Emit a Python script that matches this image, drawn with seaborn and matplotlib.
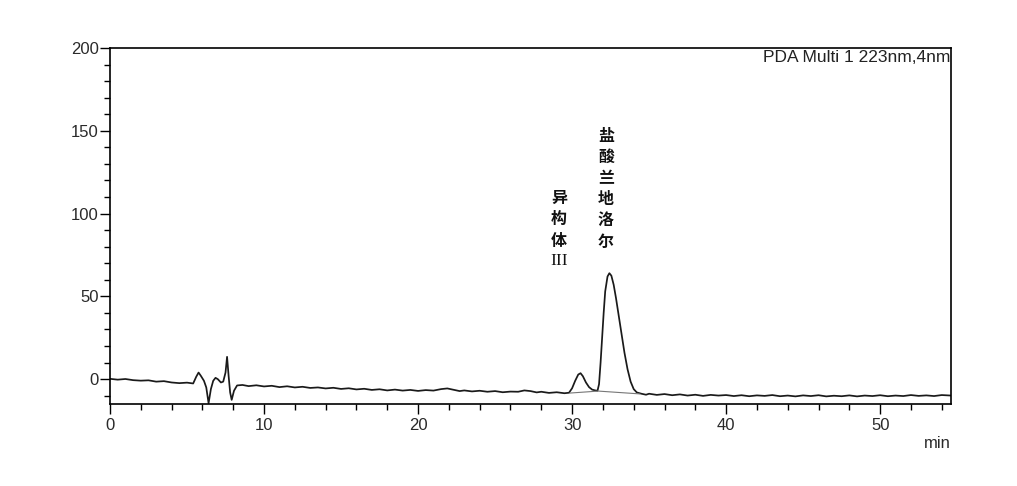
import numpy as np
import pandas as pd
import matplotlib
matplotlib.use("Agg")
import matplotlib.pyplot as plt
from matplotlib.ticker import MultipleLocator
import seaborn as sns

# ---------------- data ----------------
time_min = [
    0.0, 0.5, 1.0, 1.5, 2.0, 2.5, 3.0, 3.5, 4.0, 4.5, 5.0, 5.4,
    5.6, 5.75, 5.9, 6.1, 6.25, 6.4, 6.55, 6.7, 6.85, 7.0, 7.2, 7.35,
    7.5, 7.6, 7.7, 7.8, 7.9, 8.05, 8.25, 8.6, 9.0, 9.5, 10.0, 10.5,
    11.0, 11.5, 12.0, 12.5, 13.0, 13.5, 14.0, 14.5, 15.0, 15.5, 16.0, 16.5,
    17.0, 17.5, 18.0, 18.5, 19.0, 19.5, 20.0, 20.5, 21.0, 21.5, 21.9, 22.3,
    22.7, 23.0, 23.5, 24.0, 24.5, 25.0, 25.5, 26.0, 26.5, 26.9, 27.3, 27.7,
    28.0, 28.5, 29.0, 29.5, 29.8, 30.0, 30.2, 30.4, 30.55, 30.7, 30.9, 31.1,
    31.3, 31.5, 31.65, 31.75, 31.85, 31.95, 32.05, 32.15, 32.3, 32.42, 32.55, 32.7,
    32.85, 33.0, 33.2, 33.4, 33.6, 33.8, 34.0, 34.2, 34.5, 34.8, 35.0, 35.5,
    36.0, 36.5, 37.0, 37.5, 38.0, 38.5, 39.0, 39.5, 40.0, 40.5, 41.0, 41.5,
    42.0, 42.5, 43.0, 43.5, 44.0, 44.5, 45.0, 45.5, 46.0, 46.5, 47.0, 47.5,
    48.0, 48.5, 49.0, 49.5, 50.0, 50.5, 51.0, 51.5, 52.0, 52.5, 53.0, 53.5,
    54.0, 54.6,
]
signal_mv = [
    0.2, -0.3, 0.1, -0.6, -0.9, -0.7, -1.5, -1.2, -2.0, -2.4, -2.1, -2.6,
    1.5, 4.0, 2.0, -1.0, -5.0, -14.5, -6.0, -1.0, 0.8, 0.0, -2.0, -1.5,
    4.0, 13.5, 2.0, -8.0, -12.5, -7.0, -3.8, -3.5, -4.2, -3.7, -4.4, -4.0,
    -4.8, -4.3, -5.0, -4.6, -5.3, -5.0, -5.6, -5.2, -5.9, -5.5, -6.2, -5.8,
    -6.5, -6.1, -6.8, -6.3, -6.9, -6.5, -7.1, -6.6, -6.9, -6.0, -5.6, -6.4,
    -7.2, -6.8, -7.4, -7.0, -7.6, -7.2, -7.9, -7.5, -7.6, -6.8, -7.2, -8.0,
    -7.6, -8.3, -7.9, -8.5, -8.2, -5.5, -1.0, 2.8, 3.6, 1.8, -2.0, -4.8,
    -6.3, -6.8, -7.0, -3.0, 10.0, 25.0, 40.0, 53.0, 62.0, 64.0, 62.5, 57.0,
    49.0, 40.0, 28.0, 16.0, 6.0, -1.5, -6.0, -8.0, -8.8, -9.4, -8.8, -9.5,
    -9.0, -9.7, -9.2, -9.9, -9.4, -10.1, -9.5, -9.9, -9.6, -10.2, -9.7, -10.3,
    -9.8, -10.1, -9.6, -10.3, -9.9, -10.4, -9.8, -10.2, -9.7, -10.4, -10.0, -10.3,
    -9.8, -10.4, -9.9, -10.2, -9.7, -10.3, -9.9, -10.2, -9.6, -10.1, -9.8, -10.2,
    -9.6, -9.9,
]
# integration baseline drawn under the two peaks
baseline_time = [29.85, 31.7, 34.4]
baseline_signal = [-8.4, -7.2, -8.9]

x_ticks = [0, 10, 20, 30, 40, 50]
y_ticks = [0, 50, 100, 150, 200]
x_limits = (0, 54.6)
y_limits = (-15, 200)

detector_label = "PDA Multi 1 223nm,4nm"
x_unit_label = "min"
isomer_label = ["异", "构", "体"]
isomer_suffix = "III"
main_label = ["盐", "酸", "兰", "地", "洛", "尔"]

# ---------------- figure ----------------
sns.set_theme(style="ticks")
plt.rcParams["font.family"] = ["Liberation Sans", "DejaVu Sans"]

W, H = 1017, 486
fig = plt.figure(figsize=(W / 100, H / 100), dpi=100)
ax = fig.add_axes([110 / W, 1 - 404 / H, (951 - 110) / W, (404 - 48) / H])

df = pd.DataFrame({"t": time_min, "s": signal_mv})
sns.lineplot(data=df, x="t", y="s", ax=ax, color="#1a1a1a", lw=1.25,
             estimator=None, sort=False)
bdf = pd.DataFrame({"t": baseline_time, "s": baseline_signal})
sns.lineplot(data=bdf, x="t", y="s", ax=ax, color="#777777", lw=0.8,
             estimator=None, sort=False)

ax.set_xlim(*x_limits)
ax.set_ylim(*y_limits)
ax.set_xticks(x_ticks)
ax.set_yticks(y_ticks)
ax.xaxis.set_minor_locator(MultipleLocator(2))
ax.yaxis.set_minor_locator(MultipleLocator(10))
ax.set_xlabel("")
ax.set_ylabel("")
for sp in ax.spines.values():
    sp.set_visible(True)
    sp.set_color("black")
    sp.set_linewidth(1.2)
ax.tick_params(which="major", direction="out", length=7, width=1.0,
               colors="black", labelcolor="#2a2a2a", labelsize=12)
ax.tick_params(axis="x", which="major", pad=3)
ax.tick_params(axis="y", which="major", pad=1)
ax.tick_params(which="minor", direction="out", length=4, width=1.0,
               colors="black")
ax.tick_params(top=False, right=False, which="both")

# texts
fig.text(950 / W, 1 - 58 / H, detector_label, ha="right", va="center",
         fontsize=12.5, color="#222222")
fig.text(951 / W, 1 - 444 / H, x_unit_label, ha="right", va="center",
         fontsize=12, color="#2a2a2a")

cjk = ["Noto Sans CJK SC", "DejaVu Sans"]
for i, ch in enumerate(isomer_label):
    fig.text(559 / W, 1 - (197.5 + 21.5 * i) / H, ch, ha="center", va="center",
             fontsize=11.5, fontweight="bold", family=cjk, color="#111111")
fig.text(559 / W, 1 - 261 / H, isomer_suffix, ha="center", va="center",
         fontsize=12.5, family=["Liberation Serif"], color="#111111")
for i, ch in enumerate(main_label):
    fig.text(606 / W, 1 - (135.5 + 21.2 * i) / H, ch, ha="center", va="center",
             fontsize=11.5, fontweight="bold", family=cjk, color="#111111")

fig.savefig("out.png", dpi=100)
